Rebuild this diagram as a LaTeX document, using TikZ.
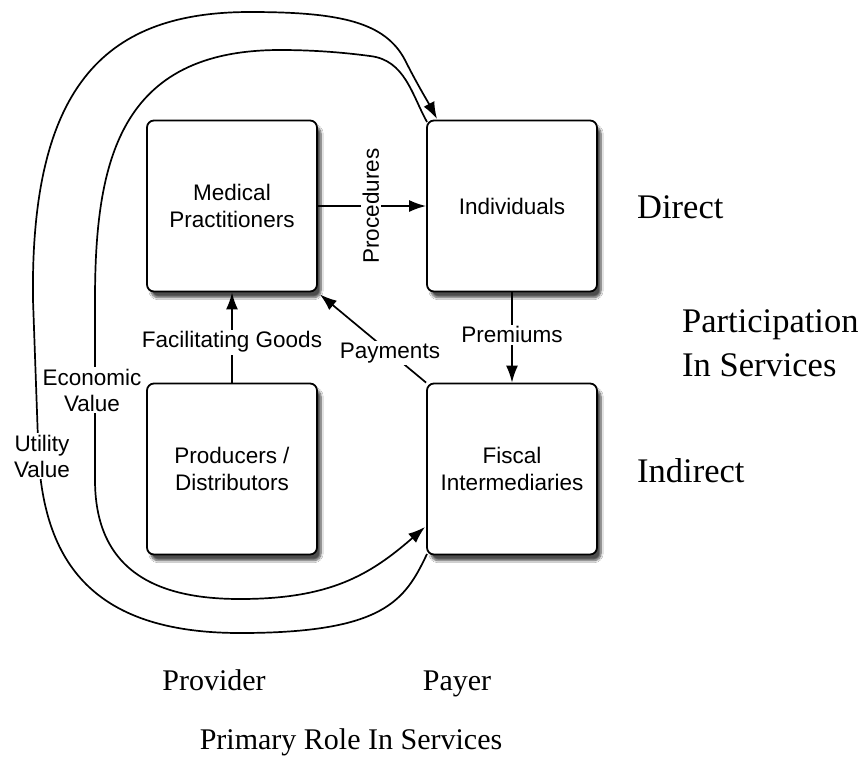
\documentclass[tikz,border=0pt]{standalone}
\usepackage{fontspec}
\setmainfont{Liberation Sans}
\newfontfamily\serifrm{Liberation Serif}
\usetikzlibrary{arrows.meta,shadows.blur}
\begin{document}
\begin{tikzpicture}[x=1pt,y=-1pt,
 box/.style={draw, line width=1.8pt, rounded corners=7pt, fill=white,
   minimum width=170pt, minimum height=171pt, align=center, inner sep=0pt,
   font=\fontsize{22.5}{27}\selectfont,
   blur shadow={shadow xshift=4pt, shadow yshift=-6pt, shadow blur steps=8, shadow opacity=70}},
 tipstyle/.style={-{Latex[length=17pt,width=12pt]}},
 conn/.style={line width=1.7pt, tipstyle},
 curve/.style={line width=1.7pt},
 lbl/.style={fill=white, inner sep=2pt, font=\fontsize{22.5}{26}\selectfont, align=center},
 axis/.style={font=\serifrm\fontsize{34.5}{44}\selectfont, align=left, inner sep=0pt},
 axisb/.style={font=\serifrm\fontsize{30}{35}\selectfont, inner sep=0pt}]
\useasboundingbox[fill=white] (0,0) rectangle (862,756);

% curves
\coordinate (uStart) at (427,554);
\coordinate (uTip) at (437,119);
\coordinate (eStart) at (427,122);
\coordinate (eEnd) at (425,527);
\draw[curve, tipstyle] (uStart) .. controls (405,600) and (385,633) .. (240,633)
  .. controls (90,633) and (40,560) .. (38,440)
  -- (33,300)
  .. controls (30,80) and (110,12) .. (250,12)
  .. controls (340,12) and (385,22) .. (405,60)
  .. controls (417,84) and (428,102) .. (uTip);
\draw[curve, tipstyle] (eStart) .. controls (412,95) and (405,60) .. (370,56)
  .. controls (340,52) and (310,50) .. (280,50)
  .. controls (120,50) and (95,160) .. (95,300)
  -- (95,480)
  .. controls (95,580) and (170,599) .. (240,599)
  .. controls (330,599) and (370,575) .. (eEnd);

% boxes
\node[box] (med) at (232,206) {Medical\\Practitioners};
\node[box] (ind) at (512,206) {Individuals};
\node[box] (prod) at (232,469) {Producers /\\Distributors};
\node[box] (fis) at (512,469) {Fiscal\\Intermediaries};

% curve labels
\node[lbl] (econ) at (92,390) {Economic\\Value};
\node[lbl] (util) at (42,456) {Utility\\Value};

% connectors
\draw[conn] (med.east) -- node[lbl, rotate=90, pos=0.49] (proc) {Procedures} (ind.west);
\draw[conn] (prod.north) -- node[lbl, pos=0.45] (fac) {Facilitating Goods} (med.south);
\draw[conn] (ind.south) -- node[lbl, pos=0.47] (prem) {Premiums} (fis.north);
\draw[conn] (fis.north west) -- node[lbl, pos=0.34] (pay) {Payments} ([shift={(2pt,-2pt)}]med.south east);

% axis labels
\node[axis, anchor=base west] (direct) at (637,218) {Direct};
\node[axis, anchor=base west] (part) at (682,376) {Participation\\In Services};
\node[axis, anchor=base west] (indirect) at (637,482) {Indirect};
\node[axisb, anchor=base] (prov) at (214,690) {Provider};
\node[axisb, anchor=base] (payer) at (457,690) {Payer};
\node[axisb, anchor=base] (role) at (351,749) {Primary Role In Services};
\end{tikzpicture}
\end{document}
